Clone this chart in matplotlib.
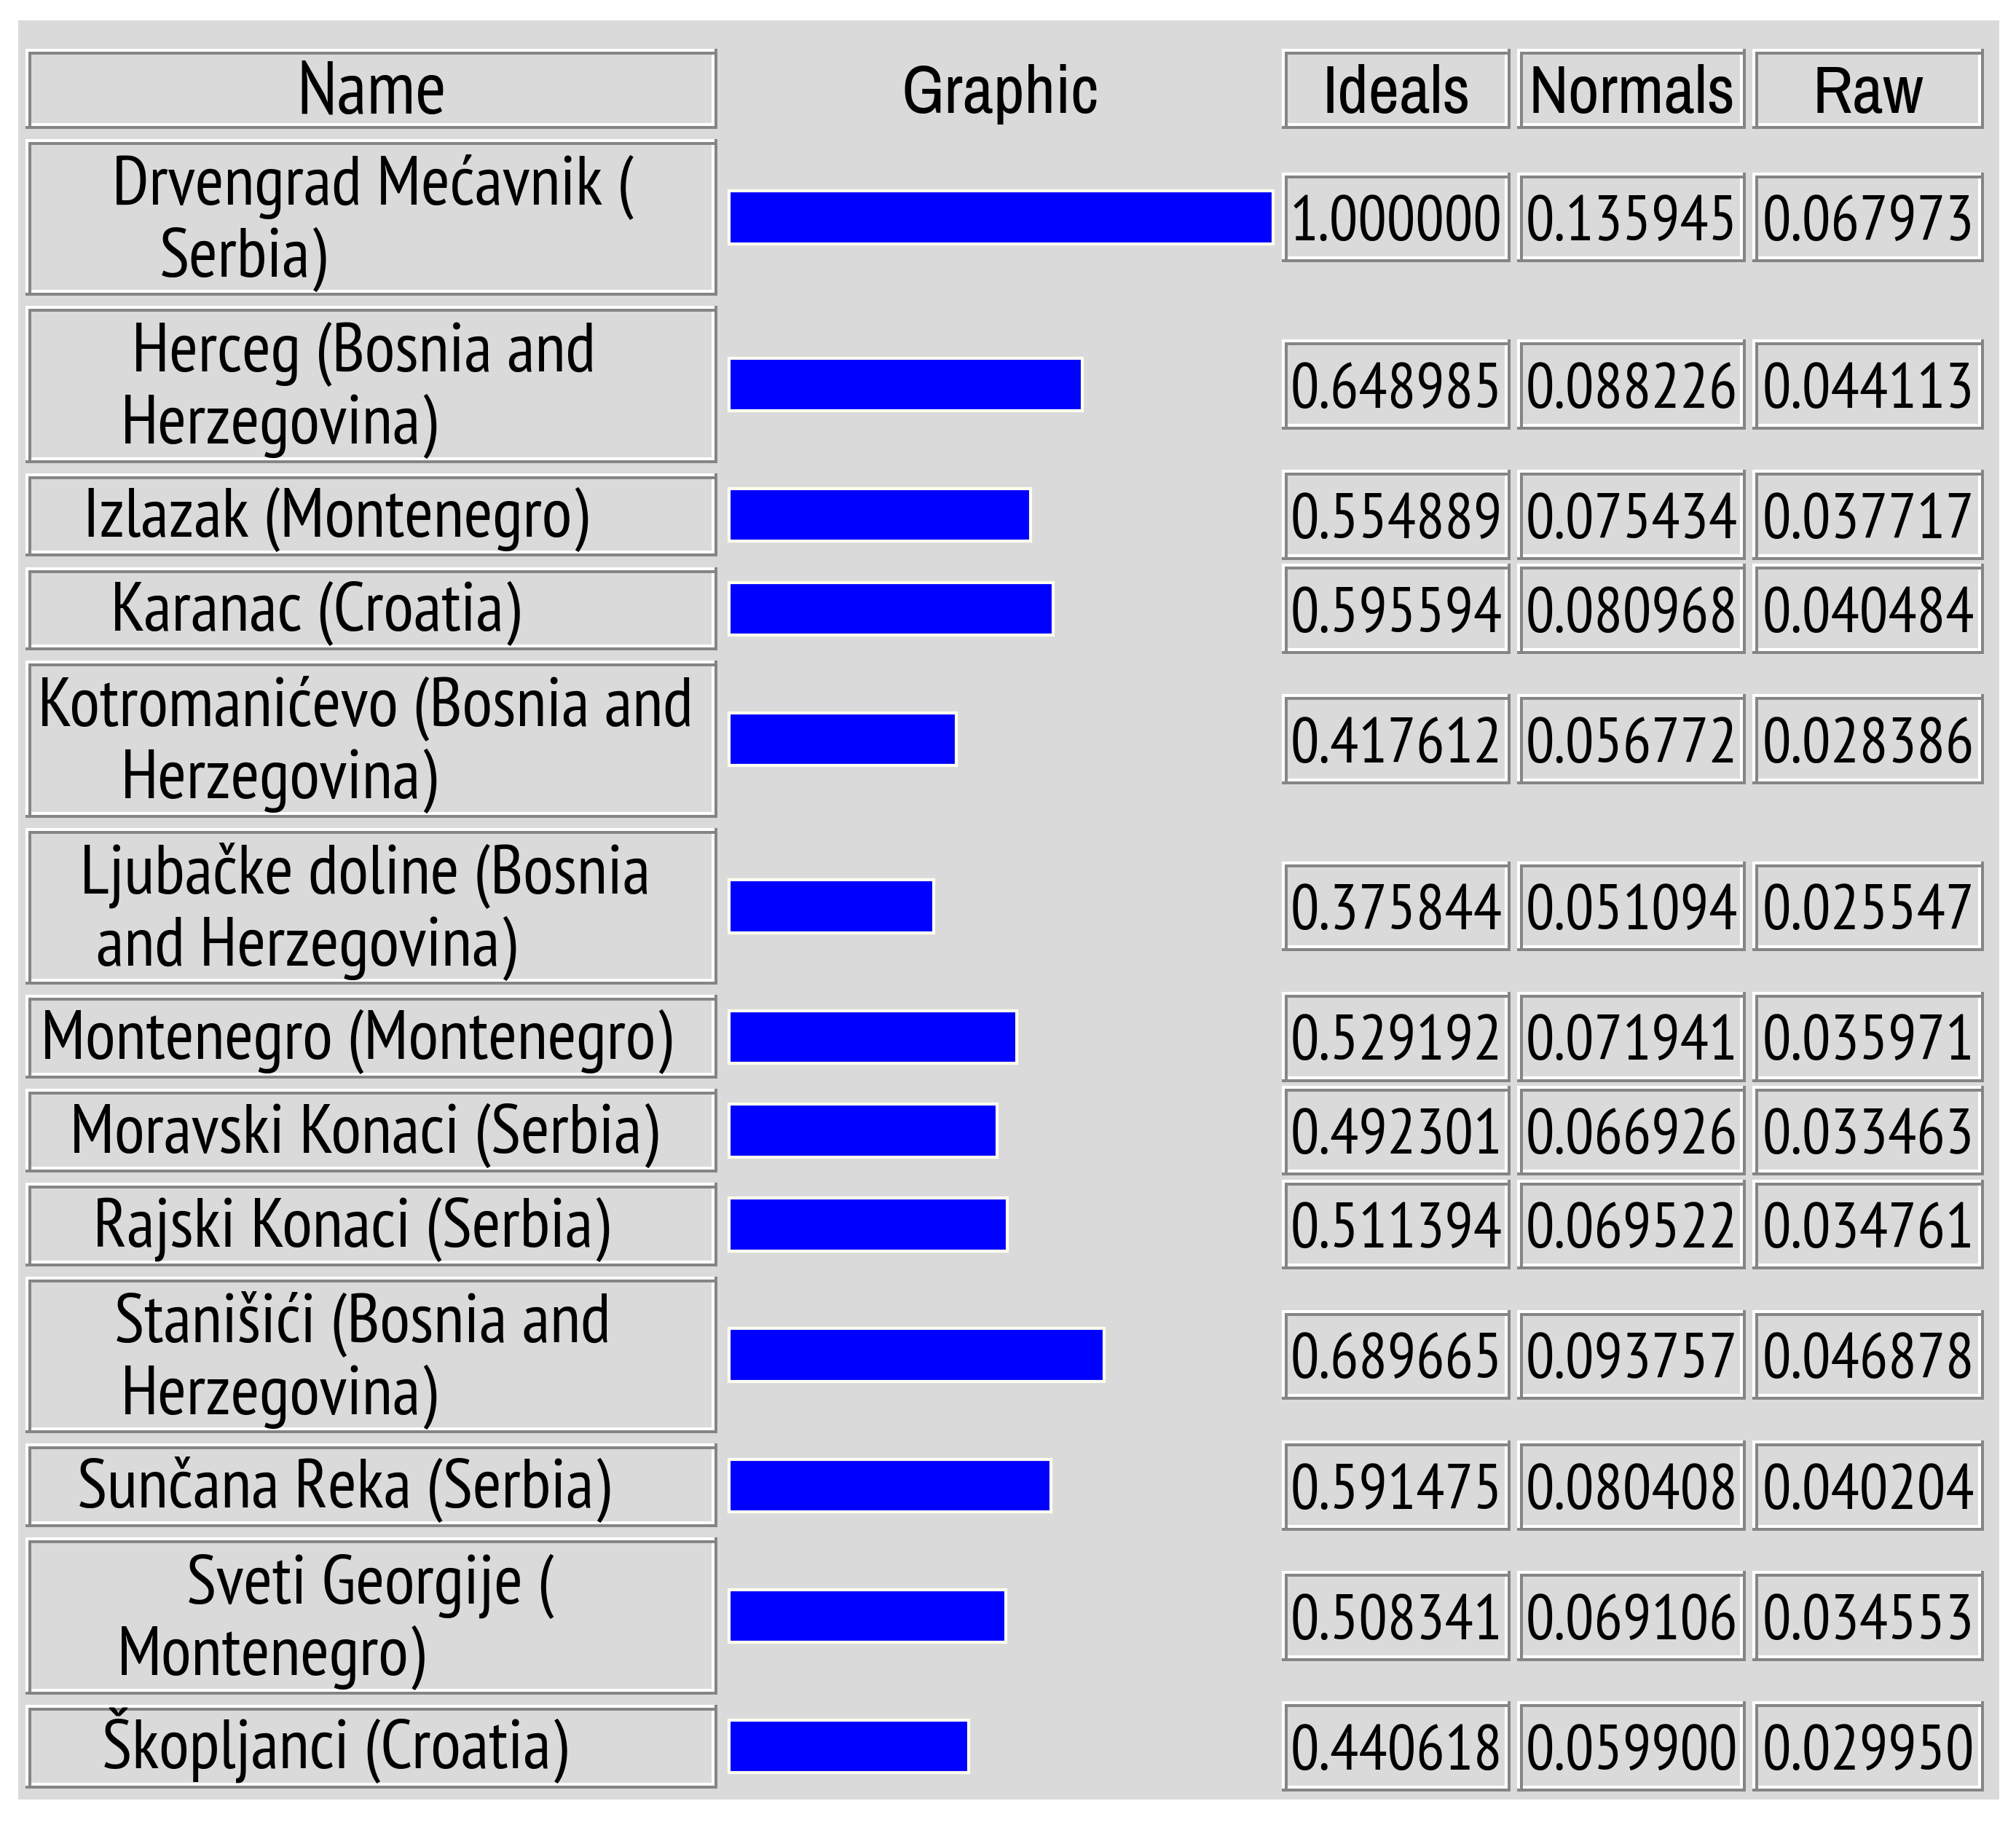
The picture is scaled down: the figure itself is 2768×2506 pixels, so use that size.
import matplotlib
matplotlib.use("Agg")
import matplotlib.pyplot as plt
from matplotlib.patches import Rectangle

# data
names = [
    "Drvengrad Mećavnik (\nSerbia)",
    "Herceg (Bosnia and\nHerzegovina)",
    "Izlazak (Montenegro)",
    "Karanac (Croatia)",
    "Kotromanićevo (Bosnia and\nHerzegovina)",
    "Ljubačke doline (Bosnia\nand Herzegovina)",
    "Montenegro (Montenegro)",
    "Moravski Konaci (Serbia)",
    "Rajski Konaci (Serbia)",
    "Stanišići (Bosnia and\nHerzegovina)",
    "Sunčana Reka (Serbia)",
    "Sveti Georgije (\nMontenegro)",
    "Škopljanci (Croatia)",
]
ideals = [1.000000, 0.648985, 0.554889, 0.595594, 0.417612, 0.375844, 0.529192,
          0.492301, 0.511394, 0.689665, 0.591475, 0.508341, 0.440618]
normals = [0.135945, 0.088226, 0.075434, 0.080968, 0.056772, 0.051094, 0.071941,
           0.066926, 0.069522, 0.093757, 0.080408, 0.069106, 0.059900]
raws = [0.067973, 0.044113, 0.037717, 0.040484, 0.028386, 0.025547, 0.035971,
        0.033463, 0.034761, 0.046878, 0.040204, 0.034553, 0.029950]
headers = ["Name", "Graphic", "Ideals", "Normals", "Raw"]

# layout, measured on a 1568 px wide preview and scaled up
S = 2768 / 1568
W, H = 2768, 2506
BG = "#dadada"
DARK = "#858585"
name_x = (20, 558)
bar_x0, bar_full = 567, 423
val_cols = [(997, 1175), (1180, 1358), (1363, 1543)]
head_y = (38, 100)
row_top, row_gap = 108, 8
row_h = {1: 65, 2: 122}
num_h, bar_h = 70, 41
# centre of each text line inside the name cells (the wrapping is uneven)
line_cx = [(290, 189), (283, 217), (261,), (245,), (284, 217), (284, 238), (277,),
           (283,), (273,), (282, 217), (267,), (288, 211), (260,)]

name_font = "PT Sans Narrow"
num_font = "PT Sans Narrow"
head_font = "Archivo Narrow"

fig = plt.figure(figsize=(W / 100, H / 100), dpi=100)
ax = fig.add_axes([0, 0, 1, 1])
ax.set_xlim(0, W)
ax.set_ylim(H, 0)
ax.axis("off")


def box(x0, y0, x1, y1, color):
    ax.add_patch(Rectangle((x0, y0), x1 - x0, y1 - y0, facecolor=color,
                           edgecolor="none", linewidth=0))


def cell(x0, y0, x1, y1):
    # grooved border, as drawn by old GUI toolkits
    x0, y0, x1, y1 = x0 * S, y0 * S, x1 * S, y1 * S
    t = 4
    box(x0, y0, x1, y1, BG)
    box(x0, y0, x1, y0 + t, "white")
    box(x0, y0, x0 + t, y1, "white")
    box(x0 + t, y0 + t, x1 - t, y0 + 2 * t, DARK)
    box(x0 + t, y0 + t, x0 + 2 * t, y1 - t, DARK)
    box(x0 + 2 * t, y1 - 2 * t, x1 - t, y1 - t, "white")
    box(x1 - 2 * t, y0 + 2 * t, x1 - t, y1 - t, "white")
    box(x0, y1 - t, x1, y1, DARK)
    box(x1 - t, y0, x1, y1, DARK)


box(14 * S, 16 * S, 1555 * S, 1400 * S, BG)

# header
cell(name_x[0], head_y[0], name_x[1], head_y[1])
ax.text((name_x[0] + name_x[1]) / 2 * S, (head_y[1] - 12) * S, headers[0],
        ha="center", va="baseline", fontsize=74, family=name_font, color="black")
ax.text(778 * S, (head_y[1] - 12) * S, headers[1], ha="center", va="baseline",
        fontsize=67, family=head_font, color="black")
for (c0, c1), h in zip(val_cols, headers[2:]):
    cell(c0, head_y[0], c1, head_y[1])
    ax.text((c0 + c1) / 2 * S, (head_y[1] - 12) * S, h, ha="center", va="baseline",
            fontsize=67, family=head_font, color="black")

# rows
centers = []
y = row_top
for i, nm in enumerate(names):
    lines = nm.split("\n")
    h = row_h[len(lines)]
    cy = y + h / 2
    centers.append(cy * S)
    cell(name_x[0], y, name_x[1], y + h)
    offs = [17] if len(lines) == 1 else [-10, 46]
    for ln, cx, off in zip(lines, line_cx[i], offs):
        ax.text(cx * S, (cy + off) * S, ln, ha="center", va="baseline",
                fontsize=69, family=name_font, color="black")
    for (c0, c1), v in zip(val_cols, (ideals[i], normals[i], raws[i])):
        cell(c0, cy - num_h / 2, c1, cy + num_h / 2)
        ax.text((c0 + c1) / 2 * S, (cy + 18) * S, f"{v:.6f}", ha="center",
                va="baseline", fontsize=63, family=num_font, color="black")
    y += h + row_gap

ax.barh(centers, [v * bar_full * S for v in ideals], left=bar_x0 * S,
        height=bar_h * S, color="#0000ff", edgecolor="#fffff0", linewidth=3)

fig.savefig("out.png", dpi=100)
